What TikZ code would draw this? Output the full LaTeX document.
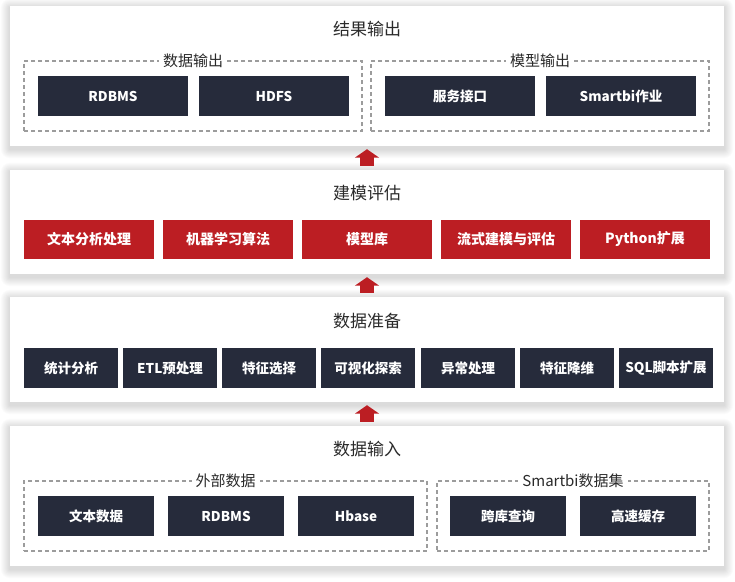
\documentclass[tikz,border=0pt]{standalone}
\usepackage{fontspec}
\setmainfont{Noto Sans CJK SC}
\usetikzlibrary{arrows.meta}
\definecolor{navy}{HTML}{262B3B}
\definecolor{brand}{HTML}{BC1E23}
\definecolor{dashgray}{HTML}{9C9C9C}
\definecolor{titlegray}{HTML}{2A2A2A}
\pgfdeclarelayer{bg}
\pgfsetlayers{bg,main}
\tikzset{
  panel/.style={rectangle, fill=white, inner sep=0pt, minimum width=714pt},
  box/.style={rectangle, inner sep=0pt, text=white, font=\bfseries\fontsize{13.5}{14}\selectfont},
  navybox/.style={box, fill=navy, minimum height=40pt},
  redbox/.style={box, fill=brand, minimum height=39pt, minimum width=130pt, font=\bfseries\fontsize{14}{15}\selectfont},
  dashbox/.style={rectangle, draw=dashgray, line width=1.2pt, dash pattern=on 4pt off 3pt, inner sep=0pt, minimum height=70pt},
  grouplabel/.style={fill=white, text=titlegray, font=\fontsize{15}{16}\selectfont, inner sep=4pt},
  paneltitle/.style={text=titlegray, font=\fontsize{17}{18}\selectfont, inner sep=0pt},
  uparrow/.style={draw=brand, line width=14pt, line cap=butt, shorten <=4pt, shorten >=3pt,
    -{Triangle[width=24pt,length=8.5pt]}},
}
\begin{document}
\begin{tikzpicture}[x=1pt,y=-1pt]
\useasboundingbox (0,0) rectangle (735,581);

% panels
\node[panel, minimum height=140pt] (p1) at (367,76) {};
\node[panel, minimum height=104pt] (p2) at (367,222) {};
\node[panel, minimum height=105pt] (p3) at (367,349.5) {};
\node[panel, minimum height=140pt] (p4) at (367,496) {};

\begin{pgfonlayer}{bg}
\fill[white] (0,0) rectangle (735,581);
\foreach \p in {p1,p2,p3,p4}{
  \foreach \i in {1,...,9}{
    \fill[black, opacity=0.014, rounded corners=\i pt]
      ([xshift=-\i pt, yshift=\i pt-2pt]\p.north west) rectangle ([xshift=\i pt, yshift=-\i pt-3pt]\p.south east);
  }
}
\end{pgfonlayer}

% titles
\node[paneltitle] (t1) at ([yshift=-23pt]p1.north) {结果输出};
\node[paneltitle] (t2) at ([yshift=-23pt]p2.north) {建模评估};
\node[paneltitle] (t3) at ([yshift=-24pt]p3.north) {数据准备};
\node[paneltitle] (t4) at ([yshift=-23pt]p4.north) {数据输入};

% row 1
\node[dashbox, minimum width=338pt] (g1) at (193,96) {};
\node[dashbox, minimum width=338pt] (g2) at (540,96) {};
\node[grouplabel] (l1) at (g1.north) {数据输出};
\node[grouplabel] (l2) at (g2.north) {模型输出};
\node[navybox, minimum width=150pt] (o1) at (113,96) {RDBMS};
\node[navybox, minimum width=150pt] (o2) at (274,96) {HDFS};
\node[navybox, minimum width=150pt] (o3) at (460,96) {服务接口};
\node[navybox, minimum width=150pt] (o4) at (621,96) {Smartbi作业};

% row 2
\node[redbox] (m1) at (89,239.5) {文本分析处理};
\node[redbox] (m2) at (228,239.5) {机器学习算法};
\node[redbox] (m3) at (367,239.5) {模型库};
\node[redbox] (m4) at (506,239.5) {流式建模与评估};
\node[redbox] (m5) at (645,239.5) {Python扩展};

% row 3
\node[navybox, minimum width=94pt] (d1) at (71,368) {统计分析};
\node[navybox, minimum width=94pt] (d2) at (170,368) {ETL预处理};
\node[navybox, minimum width=94pt] (d3) at (269,368) {特征选择};
\node[navybox, minimum width=94pt] (d4) at (368,368) {可视化探索};
\node[navybox, minimum width=94pt] (d5) at (468,368) {异常处理};
\node[navybox, minimum width=94pt] (d6) at (567,368) {特征降维};
\node[navybox, minimum width=94pt] (d7) at (666,368) {SQL脚本扩展};

% row 4
\node[dashbox, minimum width=403pt] (g3) at (225.5,516) {};
\node[dashbox, minimum width=272pt] (g4) at (573,516) {};
\node[grouplabel] (l3) at (g3.north) {外部数据};
\node[grouplabel] (l4) at (g4.north) {Smartbi数据集};
\node[navybox, minimum width=116pt] (i1) at (96,516) {文本数据};
\node[navybox, minimum width=116pt] (i2) at (226,516) {RDBMS};
\node[navybox, minimum width=116pt] (i3) at (356,516) {Hbase};
\node[navybox, minimum width=116pt] (i4) at (508,516) {跨库查询};
\node[navybox, minimum width=116pt] (i5) at (638,516) {高速缓存};

% arrows
\draw[uparrow] (p2.north) -- (p1.south);
\draw[uparrow] (p3.north) -- (p2.south);
\draw[uparrow] (p4.north) -- (p3.south);
\end{tikzpicture}
\end{document}
